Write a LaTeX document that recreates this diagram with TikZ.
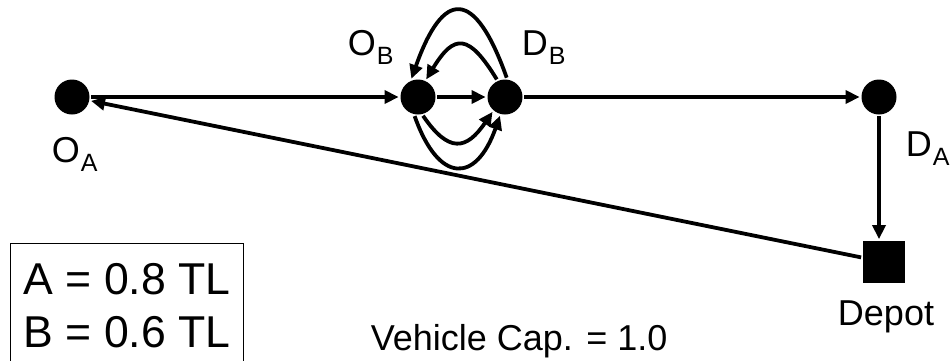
\documentclass[tikz,border=0pt]{standalone}
\usepackage{fontspec}
\setmainfont{Liberation Sans}
\usetikzlibrary{arrows.meta}
\newcommand{\subl}[1]{\kern1pt\raisebox{-9pt}{\fontsize{25}{27}\selectfont #1}}

\begin{document}
\begin{tikzpicture}[x=1pt, y=-1pt, >={Triangle[length=14pt,width=13pt]}, line width=3.8pt,
    site/.style={circle, fill=black, inner sep=0pt, minimum size=35pt},
    lbl/.style={font=\fontsize{36}{40}\selectfont, inner sep=0pt}]

\clip (0,0) rectangle (950,360);

% Sites
\node[site] (oa) at (72,97) {};
\node[site] (ob) at (418,97) {};
\node[site] (db) at (505,97) {};
\node[site] (da) at (879,97) {};
\node[fill=black, inner sep=0pt, minimum size=42pt] (depot) at (884,262) {};

% Labels
\node[lbl, anchor=base west] (oalbl) at (50,162) {O\subl{A}};
\node[lbl, anchor=base west] (oblbl) at (346,55) {O\subl{B}};
\node[lbl, anchor=base west] (dblbl) at (520,55) {D\subl{B}};
\node[lbl, anchor=base west] (dalbl) at (904,156) {D\subl{A}};
\node[lbl, anchor=base] (depotlbl) at (886,325) {Depot};
\node[lbl, anchor=base west] (caplbl) at (369,350) {Vehicle Cap. = 1.0};

% Loads
\node[draw, line width=1.3pt, anchor=north west, inner xsep=13pt, inner ysep=20pt,
    align=left, font=\fontsize{44.6}{53}\selectfont] (loads) at (10,243)
    {A = 0.8 TL\\B = 0.6 TL};

% Route
\draw[->] (oa) -- (ob);
\draw[->] (ob) -- (db);
\draw[->] (db) -- (da);
\draw[->] (da) -- (da |- depot.north);
\draw[->] (depot) -- (oa);

% Repeated trips
\draw[->] (db.85) .. controls +(-32,-90) and +(32,-90) .. (ob.110);
\draw[->] (db.115) .. controls +(-28,-46) and +(28,-46) .. (ob.65);
\draw[->] (ob.-75) .. controls +(26,38) and +(-26,38) .. (db.-130);
\draw[->] (ob.-100) .. controls +(24,68) and +(-24,68) .. (db.-105);

\end{tikzpicture}
\end{document}
